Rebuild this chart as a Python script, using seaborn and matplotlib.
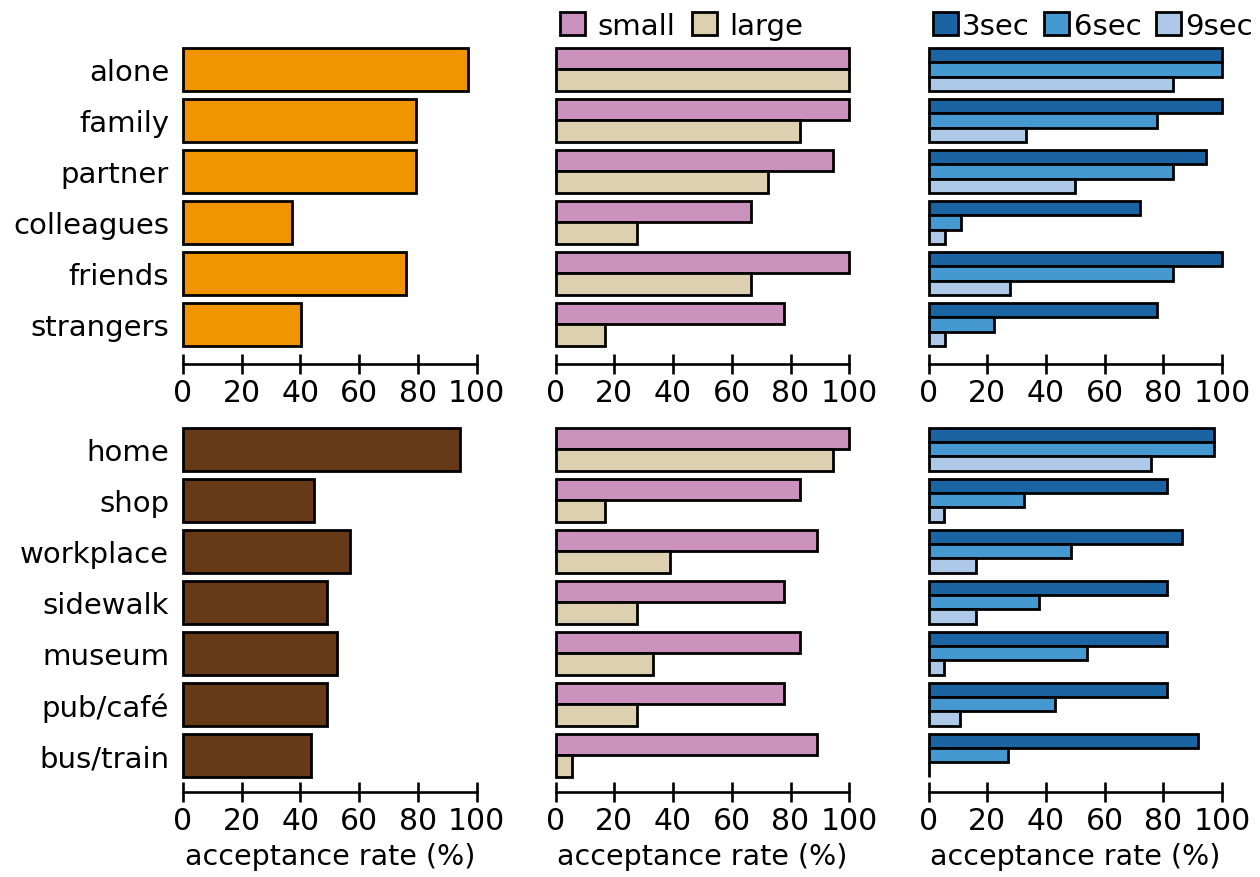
import matplotlib
matplotlib.use("Agg")
import matplotlib.pyplot as plt
from matplotlib.patches import Patch
import seaborn as sns
import pandas as pd

# --- data -----------------------------------------------------------------
social = ["alone", "family", "partner", "colleagues", "friends", "strangers"]
social_all = [97.0, 79.4, 79.4, 37.0, 76.1, 40.2]
social_small = [100.0, 100.0, 94.4, 66.7, 100.0, 77.8]
social_large = [100.0, 83.3, 72.2, 27.8, 66.7, 16.7]
social_3sec = [100.0, 100.0, 94.4, 72.2, 100.0, 77.8]
social_6sec = [100.0, 77.8, 83.3, 11.1, 83.3, 22.2]
social_9sec = [83.3, 33.3, 50.0, 5.6, 27.8, 5.6]

place = ["home", "shop", "workplace", "sidewalk", "museum", "pub/café", "bus/train"]
place_all = [94.5, 44.6, 56.9, 49.1, 52.5, 49.1, 43.5]
place_small = [100.0, 83.3, 88.9, 77.8, 83.3, 77.8, 88.9]
place_large = [94.4, 16.7, 38.9, 27.8, 33.3, 27.8, 5.6]
place_3sec = [97.3, 81.1, 86.5, 81.1, 81.1, 81.1, 91.9]
place_6sec = [97.3, 32.4, 48.6, 37.8, 54.1, 43.2, 27.0]
place_9sec = [75.7, 5.4, 16.2, 16.2, 5.4, 10.8, 0.0]

size_levels = ["small", "large"]
time_levels = ["3sec", "6sec", "9sec"]
xticks = [0, 20, 40, 60, 80, 100]

# --- style ----------------------------------------------------------------
sns.set_theme(style="white")
plt.rcParams["font.family"] = ["DejaVu Sans"]
plt.rcParams["text.color"] = "black"
plt.rcParams["axes.labelcolor"] = "black"
plt.rcParams["xtick.color"] = "black"
plt.rcParams["ytick.color"] = "black"
FS = 21

SOCIAL_COLOR = "#F09400"
PLACE_COLOR = "#673A17"
SIZE_COLORS = ["#CC92BE", "#DCD0B0"]
TIME_COLORS = ["#1B64A3", "#4698D0", "#AEC9E8"]
EDGE_LW = 2.0


def long_frame(cats, series, names, hue_name):
    rows = []
    for name, vals in zip(names, series):
        for c, v in zip(cats, vals):
            rows.append({"category": c, hue_name: name, "rate": v})
    return pd.DataFrame(rows)


fig = plt.figure(figsize=(12.6, 8.78), dpi=100)
W, H = 1260.0, 878.0
col_left = [183.0, 555.7, 928.5]
col_width = 293.5
# (axes top px, axes bottom px, ylim bottom)
rows_geom = [(45.0, 365.0, 5.775), (424.8, 793.3, 6.725)]

groups = [
    (social, social_all, [social_small, social_large], [social_3sec, social_6sec, social_9sec], SOCIAL_COLOR),
    (place, place_all, [place_small, place_large], [place_3sec, place_6sec, place_9sec], PLACE_COLOR),
]

axes = []
for r, (cats, overall, by_size, by_time, color) in enumerate(groups):
    top, bottom, ylo = rows_geom[r]
    row_axes = []
    for c in range(3):
        ax = fig.add_axes([col_left[c] / W, 1 - bottom / H, col_width / W, (bottom - top) / H])
        if c == 0:
            df = pd.DataFrame({"category": cats, "rate": overall})
            sns.barplot(data=df, x="rate", y="category", orient="h", color=color,
                        edgecolor="black", linewidth=EDGE_LW, width=0.84,
                        saturation=1, ax=ax)
        elif c == 1:
            df = long_frame(cats, by_size, size_levels, "size")
            sns.barplot(data=df, x="rate", y="category", hue="size", orient="h",
                        palette=SIZE_COLORS, hue_order=size_levels,
                        edgecolor="black", linewidth=EDGE_LW, width=0.84, gap=0,
                        saturation=1, legend=False, ax=ax)
        else:
            df = long_frame(cats, by_time, time_levels, "time")
            sns.barplot(data=df, x="rate", y="category", hue="time", orient="h",
                        palette=TIME_COLORS, hue_order=time_levels,
                        edgecolor="black", linewidth=EDGE_LW, width=0.84, gap=0,
                        saturation=1, legend=False, ax=ax)
        for p in ax.patches:
            p.set_clip_on(False)
        ax.set_xlim(0, 100)
        ax.set_ylim(ylo, -0.5)
        ax.set_xticks(xticks)
        ax.set_xticklabels([str(t) for t in xticks])
        for side in ["top", "right", "left"]:
            ax.spines[side].set_visible(False)
        ax.spines["bottom"].set_linewidth(1.9)
        ax.spines["bottom"].set_color("black")
        ax.tick_params(axis="x", direction="inout", length=14, width=1.9,
                       color="black", labelcolor="black", labelsize=FS + 0.5,
                       pad=3, bottom=True)
        ax.set_ylabel("")
        if c == 0:
            ax.tick_params(axis="y", length=0, labelsize=FS, labelcolor="black", pad=10)
        else:
            ax.set_yticks([])
        if r == 1:
            ax.set_xlabel("acceptance rate (%)", fontsize=FS - 0.5, color="black", labelpad=5)
        else:
            ax.set_xlabel("")
        ax.set_facecolor("none")
        row_axes.append(ax)
    axes.append(row_axes)

# legends above the top-row panels
size_handles = [Patch(facecolor=col, edgecolor="black", linewidth=EDGE_LW, label=lab)
                for col, lab in zip(SIZE_COLORS, size_levels)]
axes[0][1].legend(handles=size_handles, loc="lower left", bbox_to_anchor=(0.0, 1.0),
                  ncol=2, frameon=False, fontsize=FS, handlelength=0.85, handleheight=0.85,
                  handletextpad=0.42, columnspacing=0.6, borderaxespad=0.15, borderpad=0,
                  labelcolor="black")

time_handles = [Patch(facecolor=col, edgecolor="black", linewidth=EDGE_LW, label=lab)
                for col, lab in zip(TIME_COLORS, time_levels)]
axes[0][2].legend(handles=time_handles, loc="lower left", bbox_to_anchor=(0.0, 1.0),
                  ncol=3, frameon=False, fontsize=FS, handlelength=0.85, handleheight=0.85,
                  handletextpad=0.15, columnspacing=0.5, borderaxespad=0.15, borderpad=0,
                  labelcolor="black")

fig.savefig("out.png", dpi=100, facecolor="white")
